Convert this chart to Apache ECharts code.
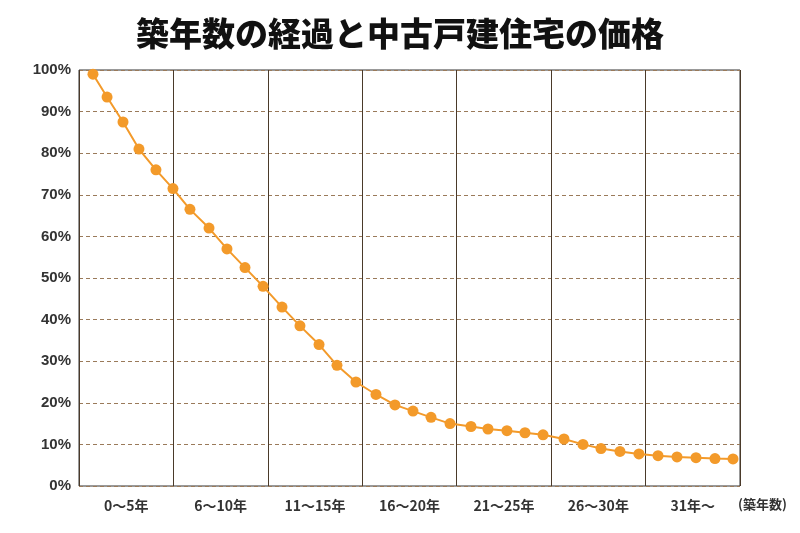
<!DOCTYPE html>
<html><head><meta charset="utf-8">
<script src="https://cdn.jsdelivr.net/npm/echarts@6/dist/echarts.min.js"></script>
<style>html,body{margin:0;background:#fff}#c{width:800px;height:533px}</style>
</head><body><div id="c"></div>
<script>
// 築年数の区分と価格(%)
var bands = ["0〜5年","6〜10年","11〜15年","16〜20年","21〜25年","26〜30年","31年〜"];
// 各点の横位置(区分単位)
var ages = [0.148,0.297,0.466,0.635,0.815,0.995, 1.175,1.377,1.567,1.758,1.949,
  2.150,2.340,2.542,2.732,2.933, 3.145,3.346,3.537,3.728,3.929,
  4.151,4.331,4.532,4.723,4.914, 5.136,5.337,5.528,5.729,5.930,
  6.132,6.333,6.534,6.735,6.926];
var prices = [99,93.5,87.5,81,76,71.5, 66.5,62,57,52.5,48, 43,38.5,34,29,25,
  22,19.5,18,16.5,15, 14.3,13.7,13.3,12.8,12.3, 11.3,10,9,8.3,7.7, 7.3,7,6.8,6.6,6.5];
var yTicks = [0,10,20,30,40,50,60,70,80,90,100];

var pts = prices.map(function(v,i){ return [ages[i], v]; });
var chart = echarts.init(document.getElementById('c'));
chart.setOption({
  animation:false,
  title:{text:'築年数の経過と中古戸建住宅の価格',left:'center',top:12,
    textStyle:{fontSize:33,fontWeight:900,color:'#111',fontFamily:'Noto Sans CJK JP'}},
  grid:{left:79,right:60,top:70,bottom:47,show:true,borderColor:'#333',borderWidth:1},
  xAxis:[
    {type:'value',min:0,max:7,show:false},
    {type:'category',data:bands,position:'bottom',
      axisLine:{show:false},axisTick:{show:false},
      axisLabel:{margin:13,fontSize:14,fontWeight:'bold',color:'#333',fontFamily:'Noto Sans CJK JP'},
      splitLine:{show:true,lineStyle:{color:'#4a3a2a',width:1}}}
  ],
  yAxis:{type:'value',min:yTicks[0],max:yTicks[yTicks.length-1],interval:10,
    axisLine:{show:false},axisTick:{show:false},
    axisLabel:{formatter:'{value}%',fontSize:15,fontWeight:'bold',color:'#333',margin:8},
    splitLine:{lineStyle:{color:'#9a7a5a',type:[4,3]}}},
  graphic:[{type:'text',left:738,top:498,style:{text:'(築年数)',font:'bold 13px "Noto Sans CJK JP"',fill:'#333'}}],
  series:[{type:'line',xAxisIndex:0,data:pts,symbol:'circle',symbolSize:11,
    lineStyle:{color:'#f39a2a',width:2},itemStyle:{color:'#f39a2a'}}]
});
</script></body></html>
